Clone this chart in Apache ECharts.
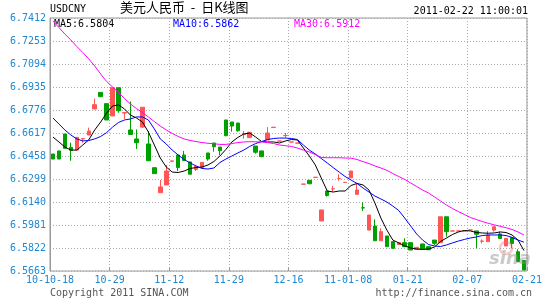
<!DOCTYPE html>
<html><head><meta charset="utf-8">
<script src="https://cdn.jsdelivr.net/npm/echarts@6/dist/echarts.min.js"></script>
<style>html,body{margin:0;padding:0;background:#fff}#c{width:545px;height:300px}</style>
</head><body><div id="c"></div>
<script>
const yTickLabels = ['6.5663','6.5822','6.5981','6.6140','6.6299','6.6458','6.6617','6.6776','6.6935','6.7094','6.7253','6.7412'];
const xTickLabels = ['10-10-18','10-29','11-12','11-29','12-16','11-01-08','01-21','02-07','02-21'];

const opens = [6.6472,6.6493,6.6610,6.6518,6.6499,6.6576,6.6603,6.6783,6.6898,6.6820,
 6.6735,6.6930,6.6755,6.6638,6.6576,6.6658,6.6541,6.6377,6.6204,6.6258,
 6.6422,6.6465,6.6465,6.6417,6.6365,6.6377,6.6479,6.6548,6.6520,6.6707,
 6.6693,6.6686,6.6607,6.6585,6.6527,6.6493,6.6569,6.6655,6.6561,6.6599,
 6.6554,6.6547,6.6263,6.6290,6.6310,6.6009,6.6216,6.6231,6.6301,6.6275,
 6.6307,6.6193,6.6100,6.5946,6.5974,6.5872,6.5905,6.5866,6.5846,6.5859,
 6.5859,6.5812,6.5850,6.5831,6.5877,6.5859,6.6038,6.5939,6.5939,6.5939,
 6.5946,6.5940,6.5869,6.5866,6.5946,6.5919,6.5836,6.5895,6.5796,6.5736];
const closes = [6.6437,6.6437,6.6511,6.6497,6.6587,6.6579,6.6631,6.6813,6.6868,6.6707,
 6.6930,6.6771,6.6759,6.6607,6.6550,6.6795,6.6425,6.6336,6.6244,6.6354,
 6.6424,6.6378,6.6427,6.6332,6.6385,6.6414,6.6437,6.6522,6.6495,6.6598,
 6.6665,6.6633,6.6609,6.6622,6.6484,6.6453,6.6617,6.6657,6.6562,6.6600,
 6.6555,6.6548,6.6264,6.6266,6.6311,6.6085,6.6185,6.6232,6.6302,6.6276,
 6.6354,6.6223,6.6099,6.6050,6.5872,6.5935,6.5831,6.5820,6.5859,6.5831,
 6.5808,6.5827,6.5813,6.5810,6.5854,6.6038,6.5935,6.5940,6.5940,6.5940,
 6.5947,6.5917,6.5870,6.5912,6.5969,6.5888,6.5889,6.5853,6.5727,6.5670];
const lows = [6.6437,6.6437,6.6511,6.6425,6.6499,6.6550,6.6603,6.6783,6.6868,6.6707,
 6.6735,6.6757,6.6714,6.6607,6.6506,6.6652,6.6425,6.6336,6.6204,6.6258,
 6.6422,6.6354,6.6427,6.6332,6.6354,6.6377,6.6425,6.6488,6.6465,6.6598,
 6.6626,6.6626,6.6578,6.6585,6.6474,6.6453,6.6569,6.6655,6.6561,6.6583,
 6.6554,6.6547,6.6263,6.6266,6.6310,6.6009,6.6177,6.6212,6.6287,6.6275,
 6.6307,6.6193,6.6078,6.5946,6.5872,6.5872,6.5831,6.5820,6.5846,6.5831,
 6.5808,6.5812,6.5813,6.5810,6.5843,6.5859,6.5900,6.5939,6.5939,6.5939,
 6.5946,6.5820,6.5854,6.5866,6.5935,6.5888,6.5836,6.5820,6.5727,6.5670];
const highs = [6.6472,6.6493,6.6610,6.6550,6.6587,6.6580,6.6654,6.6854,6.6898,6.6820,
 6.6930,6.6930,6.6759,6.6835,6.6641,6.6795,6.6631,6.6377,6.6292,6.6396,
 6.6424,6.6465,6.6493,6.6417,6.6396,6.6414,6.6479,6.6548,6.6520,6.6707,
 6.6693,6.6686,6.6631,6.6622,6.6527,6.6493,6.6658,6.6657,6.6562,6.6617,
 6.6555,6.6548,6.6264,6.6290,6.6311,6.6085,6.6216,6.6251,6.6332,6.6276,
 6.6354,6.6269,6.6138,6.6050,6.6020,6.5958,6.5905,6.5866,6.5859,6.5889,
 6.5859,6.5827,6.5850,6.5831,6.5877,6.6038,6.6038,6.5940,6.5940,6.5940,
 6.5947,6.5940,6.5882,6.5940,6.5969,6.5935,6.5889,6.5895,6.5813,6.5736];

const ma5 = [6.6589,6.6555,6.6520,6.6499,6.6499,6.6534,6.6569,6.6638,6.6693,6.6755,
 6.6804,6.6811,6.6783,6.6741,6.6721,6.6693,6.6624,6.6534,6.6444,6.6382,
 6.6347,6.6344,6.6354,6.6372,6.6378,6.6382,6.6396,6.6420,6.6458,6.6503,
 6.6555,6.6586,6.6610,6.6617,6.6589,6.6558,6.6555,6.6555,6.6548,6.6562,
 6.6572,6.6569,6.6513,6.6458,6.6396,6.6306,6.6216,6.6209,6.6216,6.6216,
 6.6254,6.6268,6.6258,6.6223,6.6133,6.6029,6.5946,6.5877,6.5857,6.5836,
 6.5822,6.5815,6.5812,6.5815,6.5829,6.5867,6.5891,6.5915,6.5933,6.5943,
 6.5940,6.5929,6.5926,6.5924,6.5926,6.5933,6.5929,6.5912,6.5877,6.5804];
const ma10 = [6.6721,6.6679,6.6638,6.6603,6.6576,6.6562,6.6565,6.6576,6.6593,6.6620,
 6.6658,6.6690,6.6707,6.6714,6.6728,6.6728,6.6707,6.6645,6.6576,6.6541,
 6.6499,6.6465,6.6434,6.6410,6.6389,6.6372,6.6368,6.6375,6.6413,6.6437,
 6.6458,6.6479,6.6499,6.6524,6.6544,6.6558,6.6572,6.6579,6.6582,6.6582,
 6.6579,6.6572,6.6534,6.6499,6.6472,6.6441,6.6410,6.6378,6.6347,6.6316,
 6.6292,6.6268,6.6237,6.6209,6.6181,6.6161,6.6140,6.6112,6.6081,6.6029,
 6.5974,6.5919,6.5877,6.5846,6.5836,6.5832,6.5843,6.5857,6.5870,6.5881,
 6.5891,6.5898,6.5908,6.5912,6.5912,6.5912,6.5908,6.5895,6.5877,6.5862];
const ma30 = [6.7391,6.7346,6.7301,6.7260,6.7215,6.7173,6.7129,6.7080,6.7025,6.6973,
 6.6935,6.6897,6.6855,6.6817,6.6786,6.6759,6.6728,6.6696,6.6665,6.6638,
 6.6614,6.6593,6.6576,6.6565,6.6558,6.6551,6.6546,6.6543,6.6538,6.6538,
 6.6544,6.6551,6.6555,6.6557,6.6556,6.6555,6.6551,6.6544,6.6534,6.6529,
 6.6524,6.6513,6.6499,6.6486,6.6468,6.6448,6.6446,6.6446,6.6446,6.6444,
 6.6443,6.6434,6.6419,6.6406,6.6389,6.6375,6.6359,6.6337,6.6316,6.6296,
 6.6271,6.6247,6.6223,6.6202,6.6175,6.6147,6.6119,6.6095,6.6074,6.6054,
 6.6033,6.6019,6.6005,6.5993,6.5982,6.5972,6.5962,6.5950,6.5933,6.5912];

const days = opens.map((_, i) => String(i));
const candles = opens.map((o, i) => [o, closes[i], lows[i], highs[i]]);
const last = a => a[a.length - 1].toFixed(4);

const MONO = '"DejaVu Sans Mono", monospace';
const BLUE = '#1e88d2';
const chart = echarts.init(document.getElementById('c'), null, {renderer: 'canvas'});
chart.setOption({
  animation: false,
  backgroundColor: '#fff',
  grid: {left: 50, right: 15, top: 18, bottom: 29, show: true, borderColor: '#999', borderWidth: 1, backgroundColor: 'transparent'},
  xAxis: [
    {type: 'category', data: days, boundaryGap: true, show: false},
    {type: 'value', min: 0, max: xTickLabels.length - 1, interval: 1, position: 'bottom',
     axisLine: {show: false},
     axisTick: {show: true, inside: true, length: 4, lineStyle: {color: '#999'}},
     axisLabel: {color: BLUE, fontFamily: MONO, fontSize: 10, margin: 4, showMinLabel: true, showMaxLabel: true,
       formatter: v => xTickLabels[Math.round(v)] || ''},
     splitLine: {show: true, lineStyle: {color: '#aaa', type: [1, 2], width: 1}}}
  ],
  yAxis: [
    {type: 'value', min: +yTickLabels[0], max: +yTickLabels[yTickLabels.length - 1], show: false, scale: true, splitLine: {show: false}},
    {type: 'value', min: 0, max: yTickLabels.length - 1, interval: 1, position: 'left',
     axisLine: {show: true, lineStyle: {color: '#999'}},
     axisTick: {show: false},
     axisLabel: {color: BLUE, fontFamily: MONO, fontSize: 10, margin: 4, showMinLabel: true, showMaxLabel: true,
       formatter: v => yTickLabels[Math.round(v)] || ''},
     splitLine: {show: true, lineStyle: {color: '#aaa', type: [1, 2], width: 1}}}
  ],
  series: [
    {type: 'candlestick', xAxisIndex: 0, yAxisIndex: 0, data: candles, barWidth: 4,
     itemStyle: {color: '#ff5555', color0: '#00a000', borderColor: '#ff5555', borderColor0: '#00a000', borderWidth: 1}},
    {type: 'line', name: 'MA5', xAxisIndex: 0, yAxisIndex: 0, data: ma5, symbol: 'none', lineStyle: {color: '#000', width: 1}},
    {type: 'line', name: 'MA10', xAxisIndex: 0, yAxisIndex: 0, data: ma10, symbol: 'none', lineStyle: {color: '#0000ff', width: 1}},
    {type: 'line', name: 'MA30', xAxisIndex: 0, yAxisIndex: 0, data: ma30, symbol: 'none', lineStyle: {color: '#ff00ff', width: 1}}
  ],
  graphic: [
    {type: 'text', left: 50, top: 4, style: {text: 'USDCNY', font: '10px ' + MONO, fill: '#000'}},
    {type: 'text', left: 120, top: 1, style: {text: '美元人民币  -  日K线图', font: '13px "Noto Sans CJK SC"', fill: '#000'}},
    {type: 'text', right: 17, top: 6, style: {text: '2011-02-22 11:00:01', font: '10px ' + MONO, fill: '#000'}},
    {type: 'text', left: 54, top: 19, style: {text: 'MA5:' + last(ma5), font: '10px ' + MONO, fill: '#000'}},
    {type: 'text', left: 173, top: 19, style: {text: 'MA10:' + last(ma10), font: '10px ' + MONO, fill: '#0000ff'}},
    {type: 'text', left: 294, top: 19, style: {text: 'MA30:' + last(ma30), font: '10px ' + MONO, fill: '#ff00ff'}},
    {type: 'text', left: 50, top: 288, style: {text: 'Copyright 2011 SINA.COM', font: '10px ' + MONO, fill: '#555'}},
    {type: 'text', right: 13, top: 288, style: {text: 'http://finance.sina.com.cn', font: '10px ' + MONO, fill: '#555'}},
    {type: 'circle', shape: {cx: 506, cy: 248, r: 6}, style: {fill: 'none', stroke: 'rgba(230,120,120,0.4)', lineWidth: 2.5}, z: 100},
    {type: 'text', left: 489, top: 250, style: {text: 'sina', font: 'italic bold 18px "DejaVu Sans"', fill: 'rgba(150,150,150,0.5)'}, z: 100}
  ]
});
</script></body></html>
